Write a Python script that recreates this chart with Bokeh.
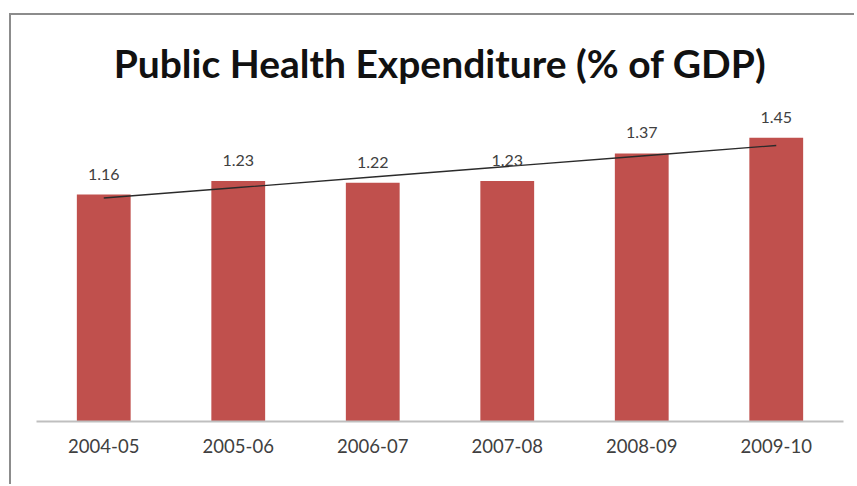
import numpy as np
from bokeh.plotting import figure
from bokeh.models import ColumnDataSource, Range1d, FactorRange, Title
from bokeh.core.properties import value
from bokeh.embed import file_html
from bokeh.resources import INLINE

years = ["2004-05", "2005-06", "2006-07", "2007-08", "2008-09", "2009-10"]
expenditure = [1.16, 1.23, 1.22, 1.23, 1.37, 1.45]
value_labels = ["1.16", "1.23", "1.22", "1.23", "1.37", "1.45"]
title_text = "Public Health Expenditure (% of GDP)"

# linear trend from the data
xi = np.arange(1, len(expenditure) + 1)
slope, intercept = np.polyfit(xi, expenditure, 1)
trend = [float(slope * k + intercept) for k in xi]

src = ColumnDataSource(dict(years=years, val=expenditure, lab=value_labels, trend=trend))

FONT = "Lato"
p = figure(
    width=845, height=471,
    x_range=FactorRange(*years, range_padding=0.0),
    y_range=Range1d(0, 1.6),
    output_backend="svg", toolbar_location=None,
    min_border_left=25, min_border_right=13, min_border_top=92, min_border_bottom=65,
    styles={"margin-left": "9px", "margin-top": "13px",
            "border-left": "2px solid #8C8C8C", "border-top": "2px solid #8C8C8C"},
)
p.title = Title(text=title_text, align="center", text_font=FONT, text_font_style="bold",
                text_font_size="39px", text_color="#111111", standoff=45)
p.outline_line_color = None
p.background_fill_color = "white"
p.border_fill_color = "white"
p.xgrid.grid_line_color = None
p.ygrid.grid_line_color = None
p.yaxis.visible = False

p.vbar(x="years", top="val", width=0.4, source=src, fill_color="#C0504D", line_color=None)
p.line(x="years", y="trend", source=src, line_color="#2b2b2b", line_width=1.3)
p.text(x="years", y="val", text="lab", source=src, text_align="center", text_baseline="bottom",
       y_offset=-15, text_font=value(FONT), text_font_size="16px", text_color="#404040")

xa = p.xaxis[0]
xa.axis_line_color = "#BFBFBF"
xa.axis_line_width = 2
xa.major_tick_line_color = None
xa.minor_tick_line_color = None
xa.major_label_text_font = FONT
xa.major_label_text_font_size = "18.5px"
xa.major_label_text_color = "#404040"
xa.major_label_standoff = 11

open("out.html", "w").write(file_html(p, INLINE))
